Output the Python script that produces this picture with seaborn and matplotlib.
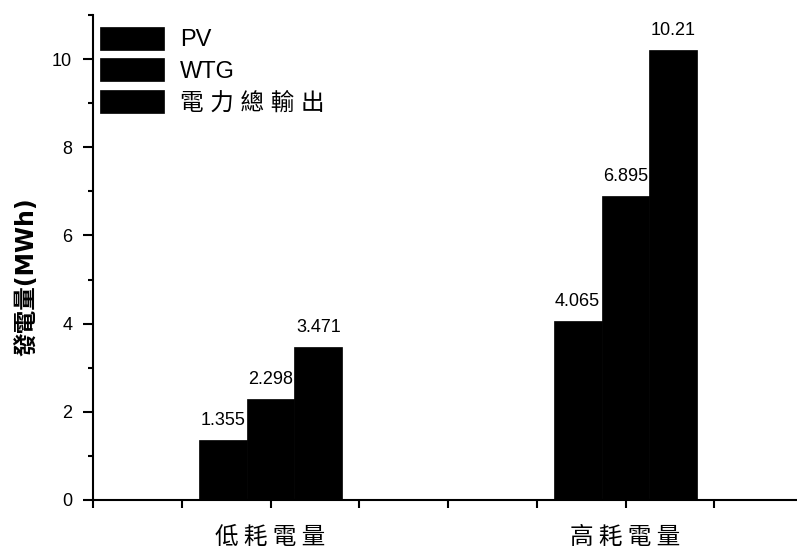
import pandas as pd
import seaborn as sns
import matplotlib.pyplot as plt
from matplotlib.ticker import MultipleLocator, FixedLocator

# Data
categories = ["低 耗 電 量", "高 耗 電 量"]
series_names = ["PV", "WTG", "電 力 總 輸 出"]
pv = [1.355, 4.065]
wtg = [2.298, 6.895]
total_output = [3.471, 10.21]


def build_frame():
    rows = []
    for name, values in zip(series_names, [pv, wtg, total_output]):
        for cat, v in zip(categories, values):
            rows.append({"category": cat, "series": name, "value": v})
    return pd.DataFrame(rows)


def main():
    df = build_frame()

    sns.set_style("ticks")
    plt.rcParams["font.family"] = ["Liberation Sans", "Noto Sans CJK TC"]
    plt.rcParams["text.color"] = "black"
    plt.rcParams["axes.labelcolor"] = "black"
    plt.rcParams["xtick.color"] = "black"
    plt.rcParams["ytick.color"] = "black"

    fig = plt.figure(figsize=(7.97, 5.55), dpi=100)
    ax = fig.add_axes([93 / 797, 1 - 500 / 555, 710 / 797, 485 / 555])

    sns.barplot(
        data=df, x="category", y="value", hue="series",
        order=categories, hue_order=series_names,
        palette=["black"] * 3, saturation=1, width=0.405, gap=0,
        errorbar=None, edgecolor="black", linewidth=0.5, ax=ax,
    )

    # value labels on top of each bar
    for cont in ax.containers:
        ax.bar_label(cont, labels=[f"{b.get_height():g}" for b in cont],
                     padding=8, fontsize=13, color="black")

    ax.set_xlim(-0.5, 1.5)
    ax.set_ylim(0, 11)
    ax.set_xticks([0, 1])
    ax.set_xticklabels(categories, fontsize=17,
                       family=["Noto Sans CJK TC"])
    ax.xaxis.set_minor_locator(FixedLocator([-0.5, -0.25, 0.25, 0.5, 0.75, 1.25, 1.5]))
    ax.yaxis.set_major_locator(MultipleLocator(2))
    ax.yaxis.set_minor_locator(MultipleLocator(1))
    ax.tick_params(axis="x", which="both", direction="out", length=6, width=1.5,
                   pad=13, colors="black")
    ax.tick_params(axis="y", which="major", direction="out", length=7, width=1.5,
                   labelsize=13, pad=8, colors="black")
    ax.tick_params(axis="y", which="minor", direction="out", length=3.5, width=1.5,
                   colors="black")

    ax.set_xlabel("")
    ax.set_ylabel("發電量(MWh)", fontsize=17, fontweight="bold", color="black",
                  family=["DejaVu Sans", "Noto Sans CJK TC"])
    ax.yaxis.set_label_coords(-0.077, 0.46)

    for side in ["top", "right"]:
        ax.spines[side].set_visible(False)
    for side in ["left", "bottom"]:
        ax.spines[side].set_linewidth(1.5)
        ax.spines[side].set_color("black")

    ax.legend(loc="upper left", bbox_to_anchor=(100 / 797, 1 - 27 / 555),
              bbox_transform=fig.transFigure, frameon=False,
              handlelength=2.7, handleheight=1.1, labelspacing=0.3,
              handletextpad=0.7, borderpad=0, borderaxespad=0,
              prop={"size": 17, "family": ["Liberation Sans", "Noto Sans CJK TC"]})

    fig.savefig("out.png", dpi=100)


if __name__ == "__main__":
    main()
